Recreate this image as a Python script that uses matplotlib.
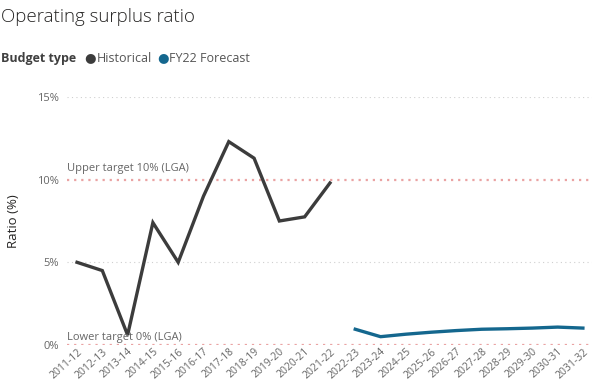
import matplotlib.pyplot as plt

# data
years = ['2011-12', '2012-13', '2013-14', '2014-15', '2015-16', '2016-17', '2017-18',
         '2018-19', '2019-20', '2020-21', '2021-22', '2022-23', '2023-24', '2024-25',
         '2025-26', '2026-27', '2027-28', '2028-29', '2029-30', '2030-31', '2031-32']
historical = [5.0, 4.5, 0.6, 7.4, 5.0, 9.0, 12.3, 11.3, 7.5, 7.75, 9.8]
forecast = [0.95, 0.5, 0.65, 0.77, 0.87, 0.95, 0.98, 1.02, 1.08, 1.02]
upper_target = 10
lower_target = 0

plt.rcParams['font.family'] = ['Open Sans', 'DejaVu Sans']

fig = plt.figure(figsize=(5.92, 3.82), dpi=100)
ax = fig.add_axes([0.113, 0.097, 0.887, 0.649])

x = list(range(len(years)))
ax.plot(x[:len(historical)], historical, color='#3c3c3c', lw=2.4, solid_joinstyle='miter')
ax.plot(x[len(historical):], forecast, color='#14678e', lw=2.4)

# gridlines and target lines
for v in [5, 15]:
    ax.axhline(v, color='#cfcfcf', lw=0.8, ls=(0, (1, 3)), zorder=0)
ax.axhline(upper_target, color='#eaa3a3', lw=1.6, ls=(0, (1, 2.2)), zorder=0)
ax.axhline(lower_target, color='#eaa3a3', lw=1.6, ls=(0, (1, 2.2)), zorder=0)
ax.text(-0.4, upper_target + 0.35, 'Upper target 10% (LGA)', color='#666666', fontsize=8, va='bottom')
ax.text(-0.4, lower_target + 0.1, 'Lower target 0% (LGA)', color='#666666', fontsize=8, va='bottom')

ax.set_xlim(-0.4, 20.36)
ax.set_ylim(0, 15)
ax.set_yticks([0, 5, 10, 15])
ax.set_yticklabels(['0%', '5%', '10%', '15%'])
ax.set_xticks(x)
ax.set_xticklabels(years, rotation=42, ha='right', rotation_mode='anchor')
ax.tick_params(length=0, labelsize=8, colors='#666666', pad=6)
ax.tick_params(axis='x', labelsize=7.5, pad=1)
for s in ax.spines.values():
    s.set_visible(False)
ax.set_ylabel('Ratio (%)', fontsize=9.5, color='#252423', labelpad=12)

fig.text(0.002, 0.978, 'Operating surplus ratio', fontsize=13.5, color='#252423', va='top',
         fontweight='light')
fig.text(0.002, 0.848, 'Budget type', fontsize=9, color='#404040', fontweight='bold', va='center')
fig.text(0.143, 0.848, '\u25cf', fontsize=9.5, color='#3c3c3c', va='center')
fig.text(0.163, 0.848, 'Historical', fontsize=9, color='#555555', va='center')
fig.text(0.265, 0.848, '\u25cf', fontsize=9.5, color='#14678e', va='center')
fig.text(0.285, 0.848, 'FY22 Forecast', fontsize=9, color='#555555', va='center')

fig.savefig('out.png', dpi=100)
